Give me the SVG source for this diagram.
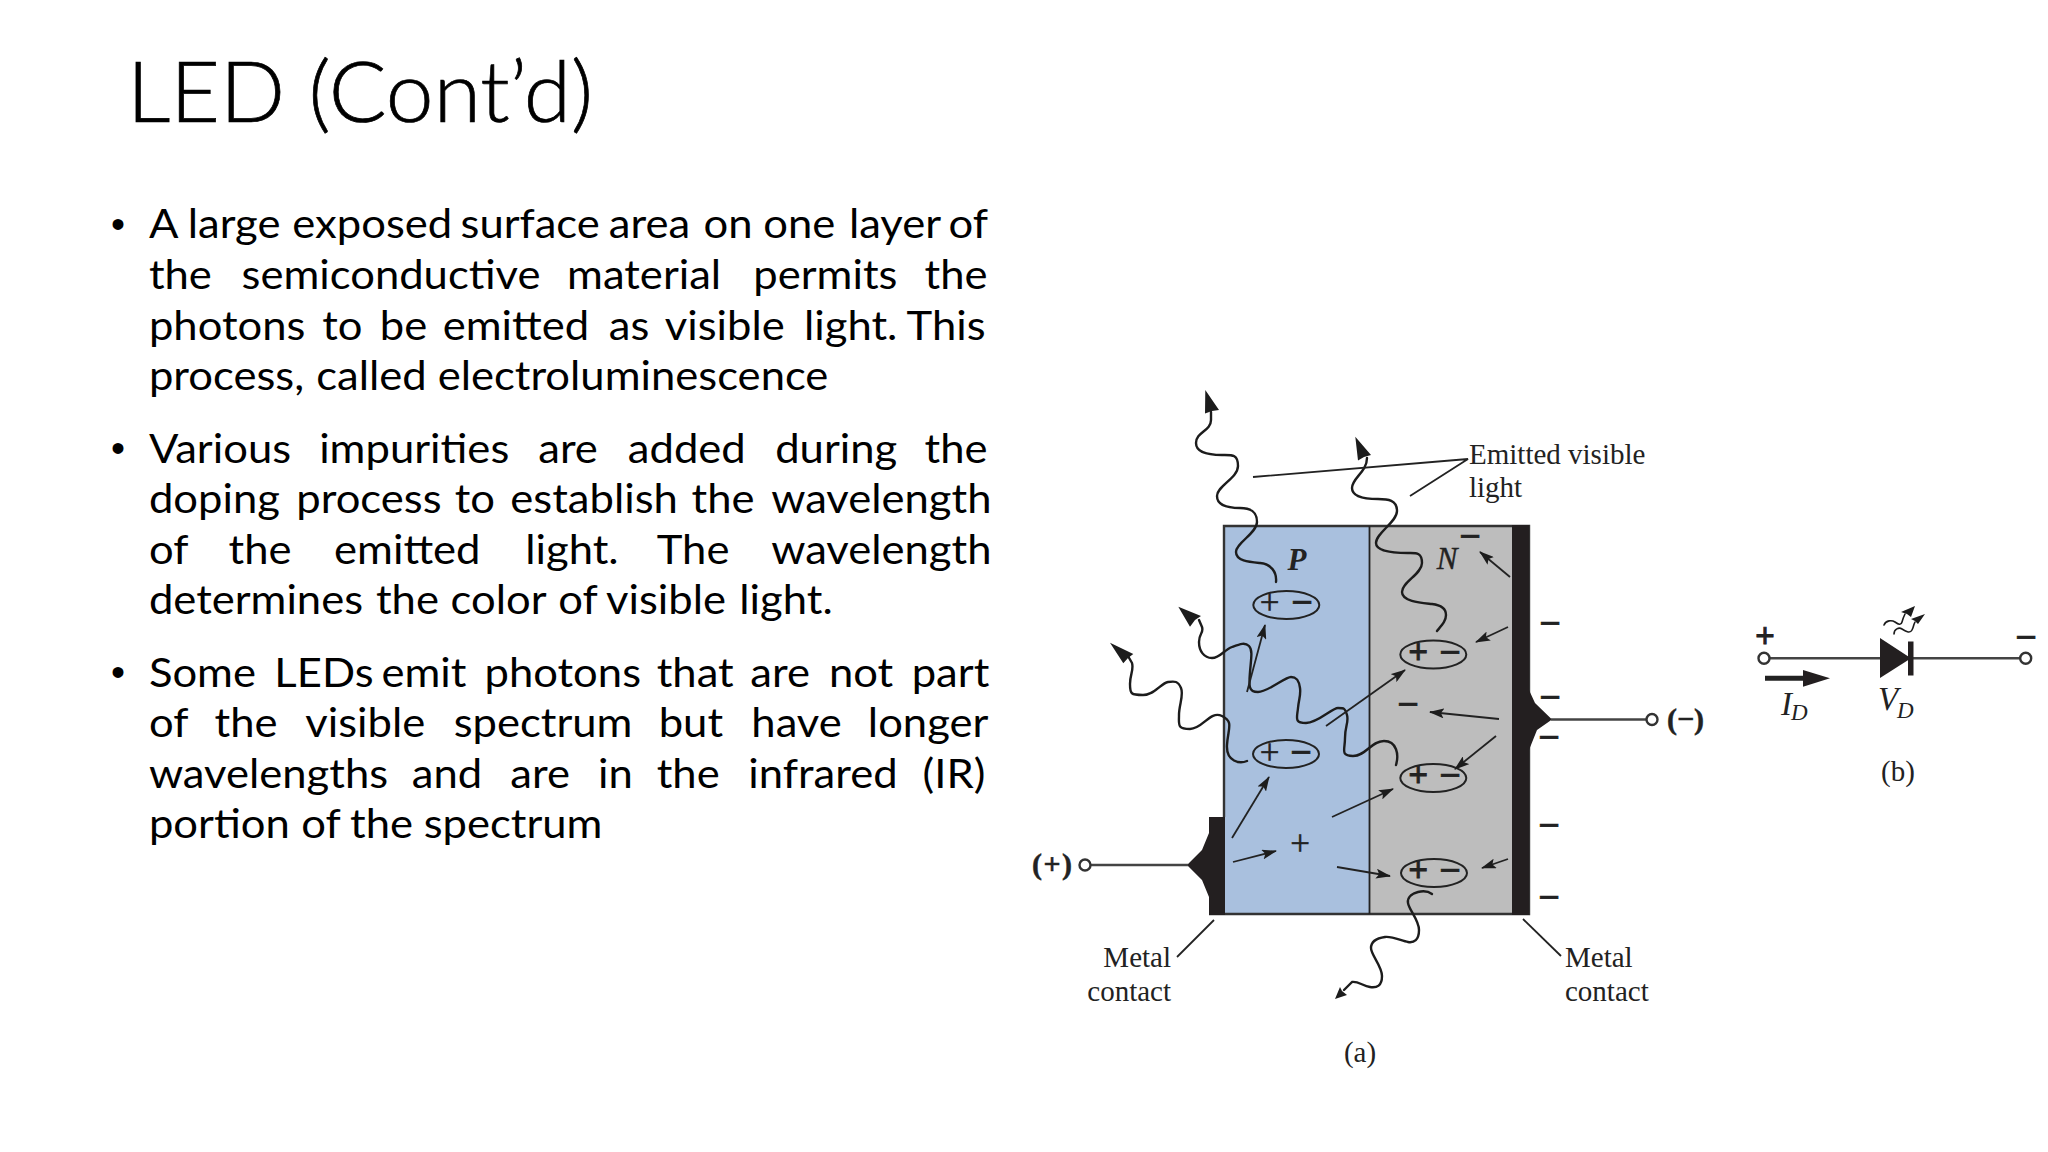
<svg xmlns="http://www.w3.org/2000/svg" width="2048" height="1152" viewBox="0 0 2048 1152">
<style>
.t{font-family:"Lato","Noto Sans",sans-serif;fill:#000}
.title{font-size:84px;font-weight:300;stroke:#000;stroke-width:.7}
.b{font-size:40px}
.bu{font-family:"Liberation Sans",sans-serif;font-size:40px;text-anchor:middle}
.s{font-family:"Liberation Serif",serif;fill:#222;font-size:29px}
.pl{font-family:"Liberation Serif",serif;fill:#222;stroke:#222;stroke-width:.5;font-size:35px;text-anchor:middle}
.pb{font-weight:bold;stroke-width:.8}
.mi{font-family:"Liberation Serif",serif;font-weight:bold;fill:#222;stroke:#222;stroke-width:.8;font-size:38px;text-anchor:middle}
.i{font-style:italic}
.w{fill:none;stroke:#1c1c1c;stroke-width:2.4;stroke-linecap:round;stroke-linejoin:round}
.l{fill:none;stroke:#222;stroke-width:1.8}
.a{fill:none;stroke:#222;stroke-width:1.8;marker-end:url(#ah)}
.h{fill:#1c1c1c}
.e{fill:none;stroke:#222;stroke-width:2}
.m{fill:#231f20}
.c{fill:#fff;stroke:#333;stroke-width:2.4}
.wire{stroke:#444;stroke-width:2.6;fill:none}
</style>
<defs>
<marker id="ah" markerUnits="userSpaceOnUse" markerWidth="15" markerHeight="10" refX="14" refY="5" orient="auto"><path d="M0 0L15 5L0 10L3 5Z" fill="#1c1c1c"/></marker>
</defs>
<rect width="2048" height="1152" fill="#fff"/>
<text id="title" class="t title" x="127" y="122" textLength="466" lengthAdjust="spacingAndGlyphs">LED (Cont’d)</text>
<g id="bullets">
<text class="bu" x="118" y="238">•</text>
<text class="bu" x="118" y="462">•</text>
<text class="bu" x="118" y="686">•</text>
</g>
<g id="body" transform="scale(1.09 1)">
<text class="t b" y="238"><tspan x="136.6">A</tspan> <tspan x="172.3">large</tspan> <tspan x="268.2">exposed</tspan> <tspan x="422.5">surface</tspan> <tspan x="558.6">area</tspan> <tspan x="645.4">on</tspan> <tspan x="700.2">one</tspan> <tspan x="778.8">layer</tspan> <tspan x="870.1">of</tspan></text>
<text class="t b" y="289"><tspan x="136.6">the</tspan> <tspan x="221.6">semiconductive</tspan> <tspan x="520.3">material</tspan> <tspan x="691.1">permits</tspan> <tspan x="848.2">the</tspan></text>
<text class="t b" y="340"><tspan x="136.6">photons</tspan> <tspan x="295.6">to</tspan> <tspan x="348.5">be</tspan> <tspan x="406.1">emitted</tspan> <tspan x="558.6">as</tspan> <tspan x="609.8">visible</tspan> <tspan x="737.6">light.</tspan> <tspan x="831.7">This</tspan></text>
<text class="t b" y="390"><tspan x="136.6">process,</tspan> <tspan x="290.1">called</tspan> <tspan x="401.5">electroluminescence</tspan></text>
<text class="t b" y="463"><tspan x="136.6">Various</tspan> <tspan x="292.8">impurities</tspan> <tspan x="493.8">are</tspan> <tspan x="576">added</tspan> <tspan x="711.2">during</tspan> <tspan x="848.2">the</tspan></text>
<text class="t b" y="513"><tspan x="136.6">doping</tspan> <tspan x="271.8">process</tspan> <tspan x="417.1">to</tspan> <tspan x="468.2">establish</tspan> <tspan x="634.5">the</tspan> <tspan x="707.5">wavelength</tspan></text>
<text class="t b" y="564"><tspan x="136.6">of</tspan> <tspan x="209.7">the</tspan> <tspan x="306.5">emitted</tspan> <tspan x="481.9">light.</tspan> <tspan x="602.5">The</tspan> <tspan x="707.5">wavelength</tspan></text>
<text class="t b" y="614"><tspan x="136.6">determines</tspan> <tspan x="344.9">the</tspan> <tspan x="413.4">color</tspan> <tspan x="512.1">of</tspan> <tspan x="555.9">visible</tspan> <tspan x="678.3">light.</tspan></text>
<text class="t b" y="687"><tspan x="136.6">Some</tspan> <tspan x="251.7">LEDs</tspan> <tspan x="350">emit</tspan> <tspan x="444.5">photons</tspan> <tspan x="602.5">that</tspan> <tspan x="688.4">are</tspan> <tspan x="760.5">not</tspan> <tspan x="836.4">part</tspan></text>
<text class="t b" y="737"><tspan x="136.6">of</tspan> <tspan x="196.9">the</tspan> <tspan x="280">visible</tspan> <tspan x="416.2">spectrum</tspan> <tspan x="604.3">but</tspan> <tspan x="689.3">have</tspan> <tspan x="796.2">longer</tspan></text>
<text class="t b" y="788"><tspan x="136.6">wavelengths</tspan> <tspan x="377.8">and</tspan> <tspan x="468.2">are</tspan> <tspan x="548.6">in</tspan> <tspan x="602.5">the</tspan> <tspan x="686.5">infrared</tspan> <tspan x="846.4">(IR)</tspan></text>
<text class="t b" y="838"><tspan x="136.6">portion</tspan> <tspan x="276.4">of</tspan> <tspan x="321.2">the</tspan> <tspan x="388.7">spectrum</tspan></text>
</g>
<g id="led-structure">
<rect id="p-layer" x="1224" y="526" width="145.5" height="388" fill="#a9c0de"/>
<rect id="n-layer" x="1369.5" y="526" width="143" height="388" fill="#bdbdbd"/>
<path id="p-outline" d="M1209 914H1529V526H1224V817" fill="none" stroke="#333" stroke-width="2.4"/>
<path class="l" d="M1369.5 526V914" stroke="#444"/>
<path id="metal-left" class="m" d="M1209 817L1209 833L1202 850L1187 865L1202 880L1209 897L1209 915L1225 915L1225 817Z"/>
<path id="metal-right" class="m" d="M1512 525H1529V690L1535 703L1552 719.5L1537 730L1529 750V915H1512Z"/>
</g>
<g id="pairs">
<ellipse class="e" cx="1286.3" cy="605" rx="33" ry="14"/>
<ellipse class="e" cx="1286" cy="754" rx="33" ry="14"/>
<ellipse class="e" cx="1433.3" cy="654.5" rx="33" ry="14"/>
<ellipse class="e" cx="1433.3" cy="778" rx="33" ry="14"/>
<ellipse class="e" cx="1434" cy="873" rx="33" ry="14"/>
<text class="pl" x="1269.5" y="614">+</text><text class="mi" x="1302" y="615">−</text>
<text class="pl" x="1269.5" y="763.5">+</text><text class="mi" x="1301" y="764.5">−</text>
<text class="pl pb" x="1418.3" y="663.5">+</text><text class="mi" x="1450" y="664.5">−</text>
<text class="pl pb" x="1418.3" y="787">+</text><text class="mi" x="1450" y="788">−</text>
<text class="pl pb" x="1418.3" y="882">+</text><text class="mi" x="1450" y="883">−</text>
<text class="pl" x="1300" y="855">+</text>
<text class="mi" x="1470" y="549">−</text>
<text class="mi" x="1408" y="717">−</text>
<text class="mi" x="1550" y="636">−</text>
<text class="mi" x="1550" y="710">−</text>
<text class="mi" x="1549" y="750">−</text>
<text class="mi" x="1549" y="838">−</text>
<text class="mi" x="1549" y="910">−</text>
<text class="s" x="1297" y="570" style="font-style:italic;font-weight:bold;text-anchor:middle;font-size:31px">P</text>
<text class="s i" x="1447" y="569" style="text-anchor:middle;font-size:31px;stroke:#222;stroke-width:.4">N</text>
</g>
<g id="connectors">
<path class="w" d="M1276 582C1277 572 1271 564 1260 563S1236 561 1236 552S1257 533 1257 522S1250 508 1240 508S1217 506 1217 496S1238 478 1238 466S1232 455 1222 455S1196 454 1196 443S1211 431 1211 420L1211 412"/>
<polygon class="h" points="1205.3,390 1219,410 1212,411 1205,413.5"/>
<path class="w" d="M1437 631C1442 625 1446 621 1446 615S1441 605 1432 604S1402 602 1402 592S1422 574 1422 563S1416 553 1408 553S1376 553 1376 543S1397 522 1397 511S1388 499 1378 499S1352 498 1352 488S1367 472 1367 458"/>
<polygon class="h" points="1355.3,436.7 1371,455 1364,457 1358,460.5"/>
<path class="w" d="M1396 765C1399 755 1397 741 1384 741S1366 756 1353 756S1345 750 1345 738S1349 722 1347 715S1344 708 1338 708S1318 723 1306 723S1297 718 1298 708S1301 695 1300 688S1297 677 1291 677S1268 692 1258 692S1249 685 1250 672S1253 650 1249 646S1240 644 1232 647S1220 658 1212 658S1199 651 1199 642S1204 633 1202 627L1199 620"/>
<polygon class="h" points="1178.3,606.7 1201,616 1195,620 1190,626.7"/>
<path class="w" d="M1247 761C1240 764 1226 762 1227 745S1234 722 1222 716S1203 729 1190 729S1179 725 1179 715S1184 695 1181 688S1175 681 1168 682S1155 695 1143 695S1130 694 1130 684S1134 670 1132 663L1128 656"/>
<polygon class="h" points="1110,642.7 1133.3,654 1128,658 1123.3,663.3"/>
<path class="w" d="M1432 894C1428 891 1422 891 1418 892S1407 896 1408 903S1419 920 1419 930S1414 943 1408 942S1392 936 1385 937S1371 941 1371 948S1382 966 1382 976S1377 988 1370 987S1358 981 1352 982L1344 990"/>
<polygon class="h" points="1335,999 1340,987 1342,991 1347,995"/>
<path class="l" d="M1253 477L1468 459L1410 496"/>
<path class="l" d="M1214 920L1177 957"/>
<path class="l" d="M1523 919L1561 956"/>
<path class="a" d="M1247 692L1265 625"/>
<path class="a" d="M1510 577L1480 552"/>
<path class="a" d="M1508 627L1476 642"/>
<path class="a" d="M1326 726L1405 670"/>
<path class="a" d="M1499 719L1430 712"/>
<path class="a" d="M1496 736L1455 769"/>
<path class="a" d="M1332 817L1393 789"/>
<path class="a" d="M1337 867L1390 876"/>
<path class="a" d="M1508 859L1482 868"/>
<path class="a" d="M1232 838L1269 777"/>
<path class="a" d="M1233 862L1276 851"/>
<path class="wire" d="M1091 865H1188"/>
<path class="wire" d="M1551 719.5H1646"/>
</g>
<g id="terminal-plus">
<circle class="c" cx="1085" cy="865" r="5.5"/>
<text class="s" x="1032" y="874" style="font-size:30px;font-weight:bold;stroke:#222;stroke-width:.5" textLength="40">(+)</text>
</g>
<g id="terminal-minus">
<circle class="c" cx="1652" cy="719.5" r="5.5"/>
<text class="s" x="1667" y="729" style="font-size:30px;font-weight:bold;stroke:#222;stroke-width:.5" textLength="37">(−)</text>
</g>
<g id="labels">
<text class="s" x="1469" y="463.5">Emitted visible</text>
<text class="s" x="1469" y="497">light</text>
<text class="s" x="1171" y="967" text-anchor="end">Metal</text>
<text class="s" x="1171" y="1001" text-anchor="end">contact</text>
<text class="s" x="1565" y="967">Metal</text>
<text class="s" x="1565" y="1001">contact</text>
<text class="s" x="1360" y="1062" text-anchor="middle">(a)</text>
</g>
<g id="led-symbol">
<path class="wire" d="M1770 658.3H1880M1913 658.3H2020" stroke="#222"/>
<circle class="c" cx="1764" cy="658.3" r="5.5"/>
<circle class="c" cx="2025.7" cy="658.3" r="5.5"/>
<polygon class="m" points="1880,638 1880,678 1911,658.3"/>
<rect class="m" x="1908" y="641.5" width="5.5" height="34"/>
<path class="w" style="stroke-width:1.6" d="M1884 625C1886 620 1892 620 1895 622S1901 626 1902 622S1903 618 1905 614"/>
<polygon class="h" points="1915,606 1911,617 1907,614 1901,612"/>
<path class="w" style="stroke-width:1.6" d="M1894 634C1894 629 1899 627 1902 629S1910 634 1912 630S1913 626 1915 622"/>
<polygon class="h" points="1925,614 1918,624 1915,621 1911,619"/>
<text class="pl pb" x="1765" y="648">+</text>
<text class="mi" x="2026" y="650">−</text>
<path d="M1765 678.3H1806" stroke="#222" stroke-width="5" fill="none"/>
<polygon class="m" points="1803,670 1830,678.3 1803,686.7"/>
<text class="s i" x="1781" y="715" style="font-size:33px">I</text>
<text class="s i" x="1791" y="720" style="font-size:23px">D</text>
<text class="s i" x="1878" y="710" style="font-size:33px">V</text>
<text class="s i" x="1897" y="718" style="font-size:23px">D</text>
<text class="s" x="1898" y="781" text-anchor="middle">(b)</text>
</g>
</svg>
